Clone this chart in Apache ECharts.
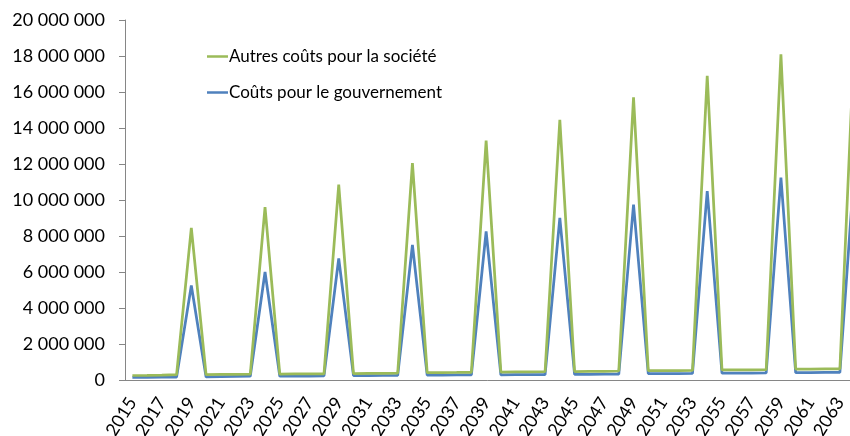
<!DOCTYPE html>
<html>
<head>
<meta charset="utf-8">
<script src="https://cdn.jsdelivr.net/npm/echarts@6/dist/echarts.min.js"></script>
<style>
  html, body { margin: 0; padding: 0; background: #ffffff; }
  #chart { width: 850px; height: 436px; }
</style>
</head>
<body>
<div id="chart"></div>
<script>
// Années 2015 -> 2064 (la dernière est coupée à droite dans l'image)
const annees = [];
for (let a = 2015; a <= 2064; a++) annees.push(String(a));

// Autres coûts pour la société
const autresCouts = [
  250000, 255000, 265000, 300000, 8450000,
  300000, 310000, 315000, 320000, 9600000,
  330000, 335000, 340000, 345000, 10850000,
  360000, 365000, 370000, 380000, 12050000,
  410000, 415000, 420000, 430000, 13300000,
  440000, 445000, 450000, 470000, 14450000,
  470000, 475000, 480000, 500000, 15700000,
  520000, 520000, 525000, 530000, 16900000,
  560000, 560000, 565000, 570000, 18100000,
  610000, 610000, 615000, 620000, 19300000
];

// Coûts pour le gouvernement
const coutsGouv = [
  150000, 150000, 155000, 160000, 5250000,
  170000, 190000, 200000, 210000, 6000000,
  210000, 215000, 220000, 225000, 6750000,
  240000, 245000, 250000, 255000, 7500000,
  270000, 275000, 280000, 285000, 8250000,
  290000, 295000, 300000, 305000, 9000000,
  310000, 315000, 320000, 325000, 9750000,
  350000, 355000, 360000, 365000, 10500000,
  380000, 380000, 385000, 390000, 11250000,
  410000, 415000, 420000, 425000, 12000000
];

const yTicks = [0, 2000000, 4000000, 6000000, 8000000, 10000000, 12000000, 14000000, 16000000, 18000000, 20000000];

const VERT = '#9BBB59';
const BLEU = '#4F81BD';
const GRIS = '#868686';
const POLICE = 'Lato';

// 20000000 -> "20 000 000"
function formatEspace(v) {
  return String(v).replace(/\B(?=(\d{3})+(?!\d))/g, ' ');
}

const chart = echarts.init(document.getElementById('chart'));
const option = {
  animation: false,
  backgroundColor: '#ffffff',
  textStyle: { fontFamily: POLICE },
  grid: {
    left: 125, top: 20, bottom: 56, right: -12,
    containLabel: false,
    outerBoundsMode: 'none'
  },
  legend: {
    orient: 'vertical',
    left: 207,
    top: 48,
    padding: 0,
    itemWidth: 21,
    itemHeight: 2.5,
    itemGap: 19,
    icon: 'rect',
    textStyle: { fontFamily: POLICE, fontSize: 17, color: '#000000', padding: [0, 0, 0, -4] },
    data: ['Autres coûts pour la société', 'Coûts pour le gouvernement']
  },
  xAxis: {
    type: 'category',
    data: annees,
    boundaryGap: true,
    axisLine: { lineStyle: { color: GRIS, width: 1 } },
    axisTick: { interval: 0, length: 5, lineStyle: { color: GRIS } },
    axisLabel: {
      interval: 1,
      rotate: 58,
      margin: 19,
      fontFamily: POLICE,
      fontSize: 18,
      color: '#000000'
    },
    splitLine: { show: false }
  },
  yAxis: {
    type: 'value',
    min: yTicks[0],
    max: yTicks[yTicks.length - 1],
    interval: yTicks[1] - yTicks[0],
    axisLine: { show: true, lineStyle: { color: GRIS, width: 1 } },
    axisTick: { show: true, length: 6, lineStyle: { color: GRIS } },
    axisLabel: {
      margin: 20,
      fontFamily: POLICE,
      fontSize: 18,
      color: '#000000',
      formatter: formatEspace
    },
    splitLine: { show: false }
  },
  series: [
    {
      name: 'Coûts pour le gouvernement',
      type: 'line',
      data: coutsGouv,
      symbol: 'none',
      lineStyle: { color: BLEU, width: 2.75 },
      itemStyle: { color: BLEU }
    },
    {
      name: 'Autres coûts pour la société',
      type: 'line',
      data: autresCouts,
      symbol: 'none',
      lineStyle: { color: VERT, width: 2.75 },
      itemStyle: { color: VERT }
    }
  ]
};
chart.setOption(option);
</script>
</body>
</html>
